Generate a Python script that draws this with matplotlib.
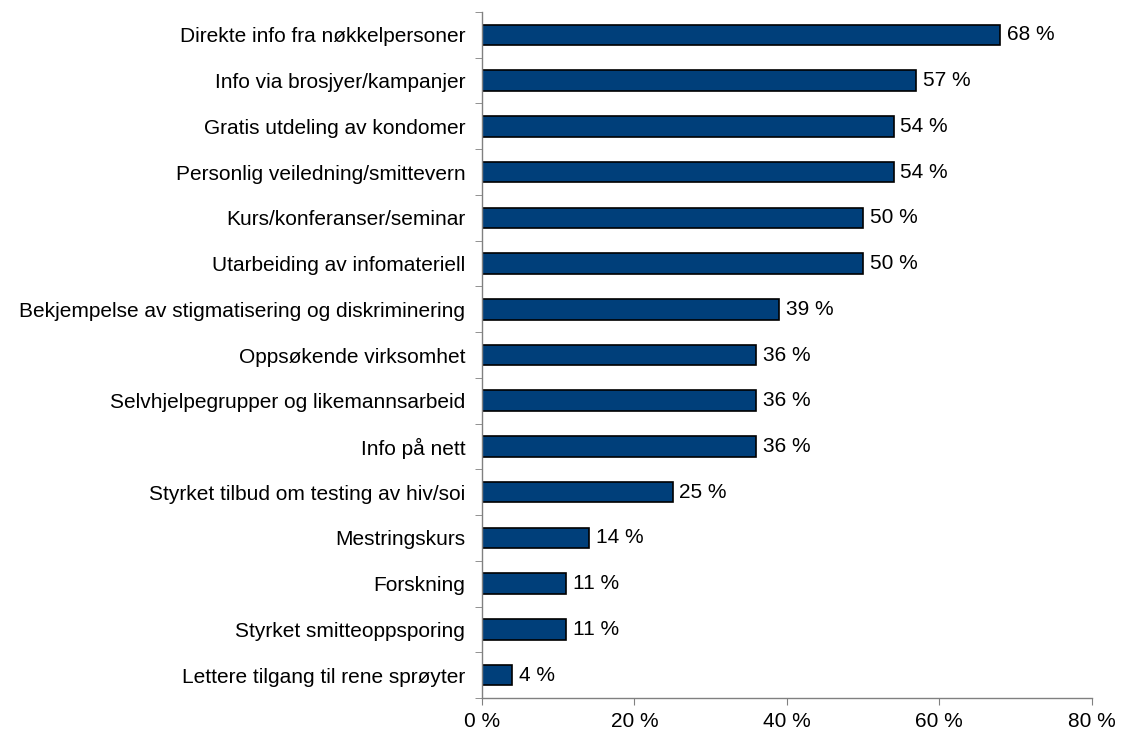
import matplotlib
matplotlib.use("Agg")
import matplotlib.pyplot as plt
from matplotlib.ticker import FuncFormatter

plt.rcParams['font.family'] = ['Liberation Sans', 'DejaVu Sans']

# Tiltak, sortert fra høyest til lavest andel
categories = [
    "Direkte info fra nøkkelpersoner",
    "Info via brosjyer/kampanjer",
    "Gratis utdeling av kondomer",
    "Personlig veiledning/smittevern",
    "Kurs/konferanser/seminar",
    "Utarbeiding av infomateriell",
    "Bekjempelse av stigmatisering og diskriminering",
    "Oppsøkende virksomhet",
    "Selvhjelpegrupper og likemannsarbeid",
    "Info på nett",
    "Styrket tilbud om testing av hiv/soi",
    "Mestringskurs",
    "Forskning",
    "Styrket smitteoppsporing",
    "Lettere tilgang til rene sprøyter",
]
values = [68, 57, 54, 54, 50, 50, 39, 36, 36, 36, 25, 14, 11, 11, 4]
xticks = [0, 20, 40, 60, 80]

FS = 15

fig = plt.figure(figsize=(11.24, 7.38), dpi=100)
ax = fig.add_axes([0.4288, 0.0542, 0.5425, 0.9295])

n = len(categories)
ypos = list(range(n))
bars = ax.barh(ypos, values, height=0.45, color='#003f7a', edgecolor='black', linewidth=1.2)

for b, v in zip(bars, values):
    ax.text(b.get_width() + 0.9, b.get_y() + b.get_height() / 2, f"{v} %",
            va='center', ha='left', fontsize=FS, color='black')

ax.set_ylim(n - 0.5, -0.5)
ax.set_xlim(0, 80)
ax.set_xticks(xticks)
ax.xaxis.set_major_formatter(FuncFormatter(lambda x, p: f"{int(x)} %"))

# Kategorietiketter uten tick-merker, tick-merker mellom kategoriene
ax.set_yticks(ypos)
ax.set_yticklabels(categories, fontsize=FS)
ax.set_yticks([i - 0.5 for i in range(n + 1)], minor=True)
ax.tick_params(axis='y', which='major', length=0, pad=12)
ax.tick_params(axis='y', which='minor', length=5, color='#808080', direction='out')
ax.tick_params(axis='x', length=5, color='#808080', labelsize=FS, pad=5)

for s in ['top', 'right']:
    ax.spines[s].set_visible(False)
for s in ['left', 'bottom']:
    ax.spines[s].set_color('#808080')
    ax.spines[s].set_linewidth(1.0)

fig.savefig("out.png", dpi=100)
